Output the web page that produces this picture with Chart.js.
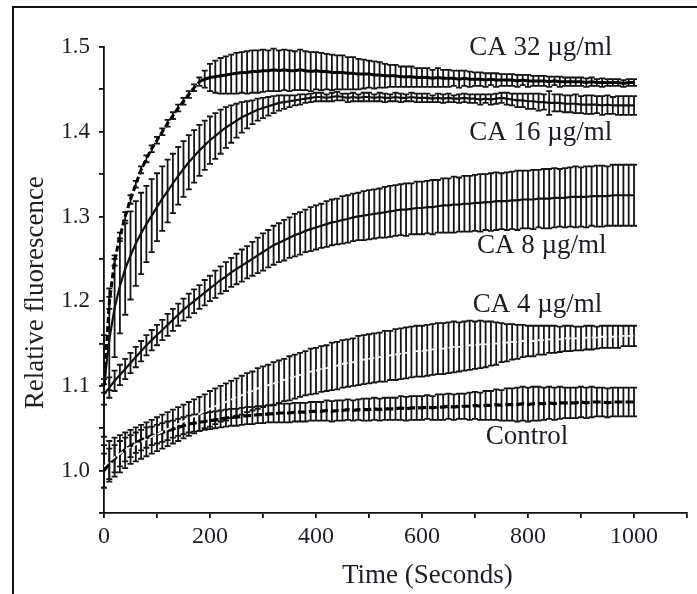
<!DOCTYPE html>
<html><head><meta charset="utf-8">
<script src="https://cdn.jsdelivr.net/npm/chart.js@4/dist/chart.umd.min.js"></script>
<style>
html,body{margin:0;padding:0;background:#fff;}
#wrap{position:relative;width:697px;height:594px;overflow:hidden;background:#fff;}
#frame{position:absolute;left:12px;top:6px;right:-10px;bottom:-10px;border-top:2px solid #111;border-left:2px solid #111;}
canvas{position:absolute;left:0;top:0;}
</style></head><body>
<div id="wrap"><div id="frame"></div><canvas id="c" width="697" height="594"></canvas></div>
<script>
const times = [0,10,20,30,40,50,60,70,80,90,100,110,120,130,140,150,160,170,180,190,200,210,220,230,240,250,260,270,280,290,300,310,320,330,340,350,360,370,380,390,400,410,420,430,440,450,460,470,480,490,500,510,520,530,540,550,560,570,580,590,600,610,620,630,640,650,660,670,680,690,700,710,720,730,740,750,760,770,780,790,800,810,820,830,840,850,860,870,880,890,900,910,920,930,940,950,960,970,980,990,1000];

const ca32 = [1.100,1.198,1.248,1.276,1.300,1.320,1.338,1.355,1.368,1.380,
1.390,1.400,1.410,1.419,1.428,1.436,1.444,1.452,1.459,1.462,
1.464,1.465,1.466,1.467,1.468,1.469,1.470,1.470,1.471,1.471,
1.472,1.472,1.473,1.472,1.473,1.472,1.472,1.473,1.472,1.471,
1.472,1.471,1.471,1.470,1.470,1.470,1.469,1.469,1.468,1.468,
1.468,1.467,1.467,1.466,1.466,1.466,1.465,1.465,1.465,1.464,
1.464,1.464,1.463,1.464,1.463,1.463,1.463,1.462,1.463,1.462,
1.462,1.462,1.461,1.462,1.461,1.461,1.461,1.461,1.460,1.461,
1.460,1.460,1.460,1.460,1.459,1.460,1.459,1.459,1.459,1.459,
1.459,1.458,1.459,1.458,1.458,1.458,1.458,1.458,1.457,1.458,
1.458];
const ca32Err = [0.008,0.007,0.006,0.005,0.005,0.005,0.004,0.004,0.004,0.004,
0.004,0.004,0.004,0.004,0.004,0.004,0.004,0.004,0.005,0.010,
0.016,0.019,0.021,0.022,0.023,0.024,0.024,0.025,0.025,0.025,
0.025,0.024,0.025,0.024,0.024,0.024,0.023,0.024,0.023,0.023,
0.022,0.022,0.021,0.021,0.020,0.020,0.019,0.019,0.018,0.017,
0.016,0.016,0.015,0.014,0.013,0.013,0.012,0.012,0.012,0.011,
0.011,0.011,0.010,0.011,0.010,0.010,0.009,0.010,0.009,0.009,
0.008,0.008,0.008,0.007,0.008,0.007,0.007,0.007,0.007,0.006,
0.007,0.006,0.006,0.006,0.006,0.005,0.006,0.005,0.005,0.005,
0.005,0.005,0.005,0.004,0.005,0.004,0.004,0.004,0.004,0.004,
0.004];

const ca16 = [1.100,1.155,1.192,1.218,1.238,1.254,1.268,1.280,1.291,1.301,
1.311,1.321,1.330,1.339,1.348,1.356,1.364,1.371,1.378,1.384,
1.390,1.395,1.400,1.405,1.409,1.413,1.417,1.420,1.423,1.426,
1.428,1.430,1.432,1.434,1.435,1.436,1.437,1.438,1.439,1.440,
1.441,1.441,1.440,1.441,1.442,1.441,1.440,1.441,1.440,1.441,
1.441,1.440,1.441,1.440,1.440,1.441,1.440,1.440,1.441,1.440,
1.440,1.440,1.439,1.440,1.439,1.440,1.439,1.439,1.440,1.439,
1.439,1.438,1.439,1.438,1.439,1.440,1.439,1.438,1.437,1.437,
1.436,1.436,1.435,1.435,1.434,1.434,1.434,1.433,1.433,1.433,
1.432,1.432,1.432,1.432,1.431,1.432,1.431,1.431,1.431,1.431,
1.431];
const ca16Err = [0.060,0.060,0.058,0.056,0.054,0.052,0.050,0.048,0.045,0.043,
0.040,0.038,0.037,0.035,0.034,0.033,0.032,0.031,0.030,0.029,
0.028,0.027,0.026,0.024,0.022,0.020,0.018,0.016,0.014,0.013,
0.012,0.011,0.010,0.009,0.008,0.007,0.006,0.006,0.005,0.005,
0.005,0.005,0.004,0.005,0.005,0.004,0.005,0.005,0.004,0.005,
0.005,0.004,0.005,0.005,0.004,0.005,0.005,0.004,0.005,0.005,
0.005,0.005,0.004,0.005,0.005,0.005,0.004,0.005,0.005,0.005,
0.005,0.006,0.005,0.006,0.006,0.006,0.007,0.007,0.008,0.008,
0.009,0.009,0.010,0.009,0.014,0.010,0.010,0.010,0.010,0.011,
0.010,0.011,0.011,0.010,0.011,0.011,0.010,0.011,0.011,0.011,
0.011];

const ca8 = [1.090,1.098,1.106,1.113,1.120,1.127,1.134,1.141,1.148,1.154,
1.160,1.166,1.172,1.178,1.184,1.190,1.195,1.200,1.205,1.210,
1.215,1.220,1.225,1.229,1.234,1.238,1.242,1.246,1.250,1.254,
1.258,1.262,1.266,1.269,1.272,1.275,1.278,1.280,1.283,1.285,
1.287,1.289,1.291,1.293,1.294,1.296,1.297,1.299,1.300,1.301,
1.302,1.303,1.304,1.305,1.306,1.307,1.308,1.308,1.309,1.310,
1.310,1.311,1.311,1.312,1.313,1.313,1.314,1.314,1.315,1.315,
1.316,1.316,1.317,1.317,1.318,1.318,1.318,1.319,1.319,1.320,
1.320,1.320,1.321,1.321,1.321,1.322,1.322,1.322,1.323,1.323,
1.323,1.323,1.324,1.324,1.324,1.324,1.325,1.325,1.325,1.325,
1.325];
const ca8Err = [0.012,0.012,0.012,0.012,0.012,0.012,0.012,0.012,0.012,0.012,
0.012,0.012,0.013,0.013,0.013,0.013,0.014,0.014,0.014,0.015,
0.015,0.016,0.016,0.017,0.017,0.018,0.019,0.019,0.020,0.021,
0.022,0.022,0.023,0.023,0.024,0.024,0.025,0.025,0.025,0.026,
0.026,0.026,0.027,0.027,0.027,0.028,0.028,0.028,0.028,0.029,
0.029,0.029,0.029,0.030,0.030,0.030,0.030,0.031,0.030,0.031,
0.031,0.031,0.032,0.031,0.032,0.032,0.033,0.032,0.033,0.033,
0.033,0.034,0.033,0.034,0.034,0.033,0.034,0.034,0.035,0.034,
0.034,0.035,0.034,0.035,0.035,0.035,0.034,0.035,0.035,0.036,
0.035,0.036,0.035,0.036,0.036,0.035,0.036,0.036,0.036,0.036,
0.036];

const ca4 = [1.005,1.011,1.016,1.020,1.024,1.028,1.031,1.034,1.037,1.040,
1.043,1.046,1.049,1.052,1.055,1.058,1.061,1.064,1.067,1.070,
1.073,1.076,1.079,1.081,1.084,1.087,1.089,1.092,1.094,1.097,
1.099,1.101,1.103,1.105,1.107,1.109,1.111,1.113,1.115,1.117,
1.118,1.120,1.121,1.123,1.124,1.126,1.127,1.128,1.130,1.131,
1.132,1.133,1.134,1.135,1.136,1.137,1.138,1.139,1.140,1.141,
1.141,1.142,1.143,1.144,1.144,1.145,1.146,1.146,1.147,1.148,
1.148,1.149,1.149,1.150,1.150,1.151,1.151,1.152,1.152,1.153,
1.153,1.153,1.154,1.154,1.155,1.155,1.155,1.156,1.156,1.156,
1.156,1.157,1.157,1.157,1.158,1.158,1.158,1.158,1.159,1.159,
1.159];
const ca4Err = [0.025,0.024,0.023,0.022,0.021,0.020,0.020,0.020,0.020,0.020,
0.020,0.020,0.020,0.020,0.020,0.020,0.020,0.020,0.020,0.020,
0.021,0.021,0.021,0.022,0.022,0.022,0.023,0.023,0.023,0.024,
0.024,0.024,0.025,0.025,0.025,0.026,0.026,0.026,0.026,0.027,
0.027,0.027,0.027,0.028,0.028,0.028,0.028,0.028,0.029,0.029,
0.029,0.029,0.029,0.030,0.029,0.030,0.030,0.030,0.030,0.030,
0.030,0.030,0.030,0.030,0.030,0.030,0.030,0.029,0.029,0.029,
0.028,0.028,0.027,0.026,0.025,0.023,0.022,0.021,0.020,0.019,
0.018,0.018,0.017,0.017,0.016,0.016,0.015,0.015,0.015,0.014,
0.014,0.014,0.014,0.013,0.013,0.013,0.013,0.013,0.012,0.012,
0.012];

const control = [1.000,1.008,1.014,1.020,1.025,1.029,1.033,1.036,1.039,1.041,
1.043,1.045,1.047,1.049,1.051,1.053,1.055,1.056,1.057,1.058,
1.059,1.060,1.061,1.062,1.063,1.063,1.064,1.065,1.065,1.066,
1.066,1.067,1.067,1.068,1.068,1.068,1.069,1.069,1.069,1.070,
1.070,1.070,1.071,1.070,1.071,1.071,1.072,1.071,1.072,1.072,
1.072,1.073,1.072,1.073,1.073,1.073,1.074,1.073,1.074,1.074,
1.074,1.075,1.074,1.075,1.075,1.076,1.075,1.076,1.076,1.076,
1.077,1.076,1.077,1.077,1.078,1.077,1.078,1.078,1.078,1.079,
1.078,1.079,1.079,1.079,1.080,1.079,1.080,1.080,1.080,1.080,
1.081,1.080,1.081,1.081,1.081,1.080,1.081,1.081,1.081,1.081,
1.081];
const controlErr = [0.020,0.018,0.016,0.015,0.014,0.013,0.012,0.012,0.012,0.011,
0.011,0.011,0.011,0.010,0.010,0.010,0.010,0.010,0.010,0.010,
0.010,0.010,0.010,0.010,0.010,0.010,0.010,0.010,0.010,0.010,
0.010,0.010,0.010,0.011,0.011,0.011,0.011,0.011,0.011,0.011,
0.011,0.011,0.012,0.012,0.012,0.012,0.012,0.012,0.012,0.013,
0.013,0.013,0.013,0.013,0.013,0.013,0.014,0.014,0.014,0.014,
0.014,0.014,0.014,0.015,0.015,0.015,0.015,0.015,0.015,0.016,
0.016,0.016,0.017,0.017,0.018,0.018,0.019,0.019,0.020,0.020,
0.020,0.020,0.020,0.019,0.019,0.019,0.019,0.018,0.018,0.018,
0.018,0.018,0.018,0.017,0.017,0.017,0.017,0.017,0.017,0.017,
0.017];

const seriesNames = ["CA 32 µg/ml","CA 16 µg/ml","CA 8 µg/ml","CA 4 µg/ml","Control"];
const xTickLabels = [0,200,400,600,800,1000];
const yTickLabels = [1.0,1.1,1.2,1.3,1.4,1.5];
const xTitle = "Time (Seconds)";
const yTitle = "Relative fluorescence";

// label anchor positions (in data units)
const labelPos = [
  {x:824,y:1.499},
  {x:824,y:1.399},
  {x:826,y:1.265},
  {x:818,y:1.196},
  {x:798,y:1.040}
];

const FONT = "'Liberation Serif', 'Times New Roman', serif";
const TXT = '#1d1d26';

function mk(vals, errs, name, lineColor, lw, extra){
  return Object.assign({
    label:name,
    data: times.map((t,i)=>({x:t,y:vals[i]})),
    errors: errs,
    borderColor: lineColor,
    backgroundColor: lineColor,
    borderWidth: lw,
    pointRadius: 0,
    showLine: true,
    tension: 0
  }, extra || {});
}

const datasets = [
  mk(ca32, ca32Err, seriesNames[0], '#000', 3,
     {segment:{borderDash: c => c.p0.parsed.x < 180 ? [6,3] : undefined}}),
  mk(ca16, ca16Err, seriesNames[1], '#111', 2.2),
  mk(ca8, ca8Err, seriesNames[2], '#111', 2.2),
  mk(ca4, ca4Err, seriesNames[3], '#f4f4f4', 1.8, {borderDash:[6,3]}),
  mk(control, controlErr, seriesNames[4], '#000', 3.2, {borderDash:[8,3]})
];

const errorBars = {
  id:'errorBars',
  beforeDatasetsDraw(chart){
    const {ctx, scales:{x,y}} = chart;
    ctx.save();
    ctx.strokeStyle = '#151515';
    ctx.lineWidth = 1.8;
    chart.data.datasets.forEach(ds=>{
      ds.data.forEach((p,i)=>{
        const e = ds.errors[i];
        const px = x.getPixelForValue(p.x);
        const top = y.getPixelForValue(p.y + e);
        const bot = y.getPixelForValue(p.y - e);
        ctx.beginPath();
        ctx.moveTo(px, top); ctx.lineTo(px, bot);
        ctx.moveTo(px - 3, top); ctx.lineTo(px + 3, top);
        ctx.moveTo(px - 3, bot); ctx.lineTo(px + 3, bot);
        ctx.stroke();
      });
    });
    ctx.restore();
  }
};

const texts = {
  id:'texts',
  afterDraw(chart){
    const {ctx, scales:{x,y}, chartArea} = chart;
    ctx.save();
    ctx.fillStyle = TXT;
    ctx.textAlign = 'center';
    ctx.textBaseline = 'middle';
    ctx.font = "27px " + FONT;
    seriesNames.forEach((n,i)=>{
      ctx.fillText(n, x.getPixelForValue(labelPos[i].x), y.getPixelForValue(labelPos[i].y));
    });
    ctx.fillText(xTitle, x.getPixelForValue(610), chartArea.bottom + 63);
    ctx.translate(36, y.getPixelForValue(1.21));
    ctx.rotate(-Math.PI/2);
    ctx.fillText(yTitle, 0, 0);
    ctx.restore();
  }
};

new Chart(document.getElementById('c'), {
  type:'line',
  data:{datasets},
  plugins:[errorBars, texts],
  options:{
    responsive:false,
    animation:false,
    events:[],
    layout:{padding:{left:0,top:47,right:10,bottom:0}},
    plugins:{legend:{display:false}, tooltip:{enabled:false}},
    scales:{
      x:{
        type:'linear', min:0, max:1100,
        afterFit(s){ s.height = 81; },
        border:{display:true, color:'#111', width:1.8},
        grid:{drawOnChartArea:false, drawTicks:true, tickLength:5, color:'#111', lineWidth:1.8},
        ticks:{stepSize:100, padding:4, color:TXT, autoSkip:false, maxRotation:0,
          font:{family:FONT, size:24},
          callback:(v)=> xTickLabels.includes(Math.round(v)) ? String(Math.round(v)) : ''}
      },
      y:{
        type:'linear', min:0.95, max:1.5,
        afterFit(s){ s.width = 104; },
        border:{display:true, color:'#111', width:1.8},
        grid:{drawOnChartArea:false, drawTicks:true, tickLength:5, color:'#111', lineWidth:1.8},
        ticks:{stepSize:0.05, padding:9, color:TXT, autoSkip:false,
          font:{family:FONT, size:23},
          callback:(v)=>{
            const hit = yTickLabels.find(t=>Math.abs(t-v)<1e-6);
            return hit !== undefined ? hit.toFixed(1) : '';
          }}
      }
    }
  }
});
</script>
</body></html>
